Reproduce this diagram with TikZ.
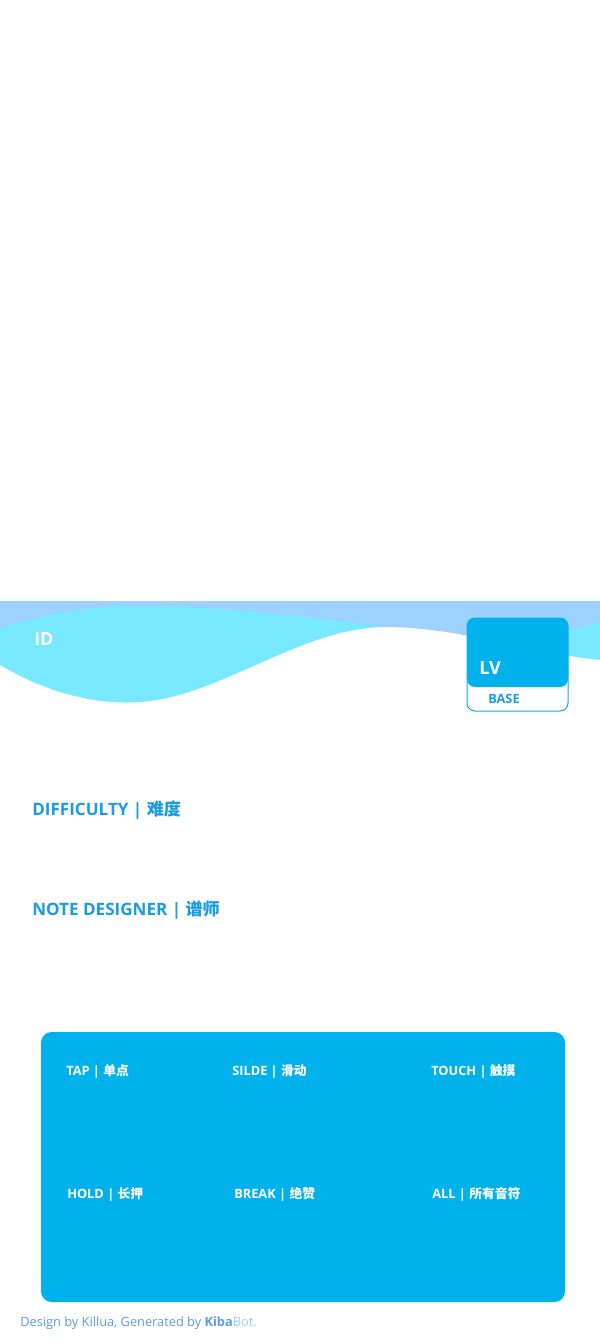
\documentclass[tikz,border=0pt]{standalone}
\usepackage{fontspec}
\setmainfont{Open Sans}
\newfontfamily\cjk{Noto Sans CJK SC}
\definecolor{lb}{HTML}{9DD1FF}
\definecolor{cy}{HTML}{78E9FF}
\definecolor{db}{HTML}{00B1EC}
\definecolor{tb}{HTML}{1A9BE3}
\definecolor{ft}{HTML}{5B9BE8}
\definecolor{ftl}{HTML}{A8C8EE}
\tikzset{
  title/.style={anchor=base west, inner sep=0pt, text=tb, font=\fontsize{12.8}{15}\selectfont\bfseries},
  lbl/.style={anchor=base west, inner sep=0pt, text=white, font=\fontsize{9.6}{12}\selectfont\bfseries},
  big/.style={anchor=base west, inner sep=0pt, text=white, font=\fontsize{13.5}{16}\selectfont\bfseries},
}
\begin{document}
\begin{tikzpicture}[x=0.75pt,y=-0.75pt]
\path[use as bounding box, fill=white] (0,0) rectangle (600,1340);
% header waves
\fill[lb] (0,601) rectangle (600,710);
\fill[cy] (0,628) .. controls (60,610) and (100,605) .. (150,606) .. controls (250,608) and (330,620) .. (385,627) .. controls (440,634) and (490,640) .. (530,637) .. controls (560,634) and (580,628) .. (600,622) -- (600,712) -- (0,712) -- cycle;
\fill[white] (0,665) .. controls (50,695) and (100,705) .. (140,702) .. controls (220,697) and (300,628) .. (385,627) .. controls (460,627) and (540,655) .. (600,660) -- (600,716) -- (0,716) -- cycle;
% level box
\draw[db, line width=0.75pt, rounded corners=6] (467,618) rectangle (568,711);
\fill[db, rounded corners=6] (467,618) rectangle (568,687);
\node[big] (id) at (34,645) {ID};
\node[big] (lv) at (479,674) {LV};
\node[lbl, text=tb] (base) at (488,703) {BASE};
% titles
\node[title] (diff) at (32,815) {DIFFICULTY | {\cjk 难度}};
\node[title] (des) at (32,915) {NOTE DESIGNER | {\cjk 谱师}};
% panel
\fill[db, rounded corners=8] (41,1032) rectangle (565,1302);
\node[lbl] (tap) at (66,1075) {TAP | {\cjk 单点}};
\node[lbl] (slide) at (232,1075) {SILDE | {\cjk 滑动}};
\node[lbl] (touch) at (431,1075) {TOUCH | {\cjk 触摸}};
\node[lbl] (hold) at (67,1198) {HOLD | {\cjk 长押}};
\node[lbl] (brk) at (234,1198) {BREAK | {\cjk 绝赞}};
\node[lbl] (all) at (432,1198) {ALL | {\cjk 所有音符}};
% footer
\node[anchor=base west, inner sep=0pt, text=ft, font=\fontsize{9.6}{11}\selectfont] (foot) at (20,1326) {Design by Killua, Generated by \textbf{Kiba}\textcolor{ftl}{Bot.}};
\end{tikzpicture}
\end{document}
